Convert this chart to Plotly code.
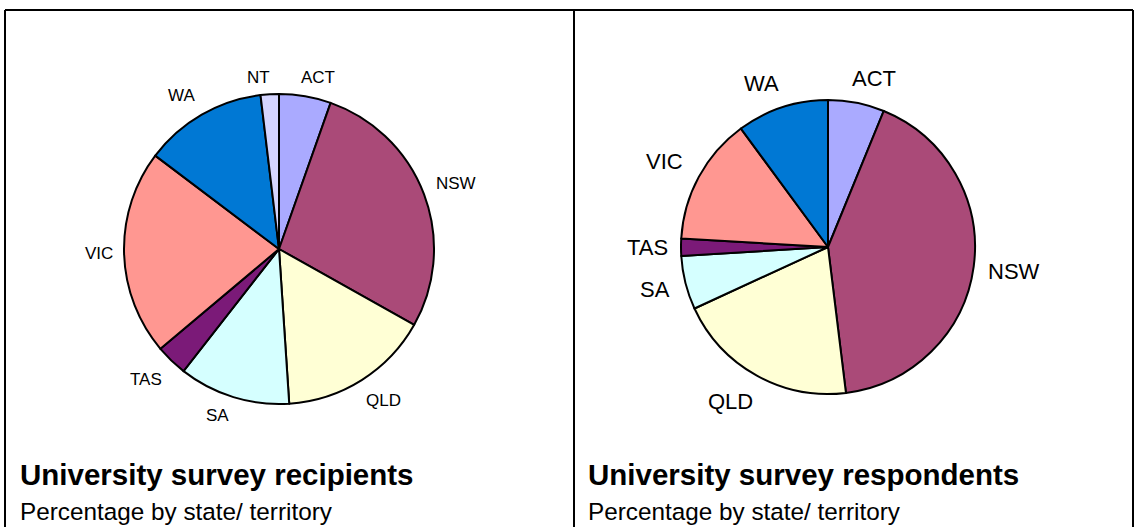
import math

import plotly.graph_objects as go

W, H = 1135, 527
FONT = "Liberation Sans, Arial, sans-serif"

states = ["ACT", "NSW", "QLD", "SA", "TAS", "VIC", "WA", "NT"]
recipients = [5.4, 27.7, 15.8, 11.6, 3.3, 21.4, 12.8, 1.9]
respondents = [6.2, 41.9, 20.1, 5.9, 1.9, 14.0, 10.1, 0.0]
colors = ["#AAAAFF", "#AA4A78", "#FFFFD5", "#D5FFFF", "#7B1A78", "#FF9791", "#0078D4", "#D5D5FF"]

titles = ["University survey recipients", "University survey respondents"]
subtitle = "Percentage by state/ territory"

# rough Arial advance widths (em) for the capitals used in the labels
CAP_W = {"A": .667, "C": .722, "D": .722, "I": .278, "L": .556, "N": .722, "Q": .778,
         "S": .667, "T": .611, "V": .667, "W": .944}

# pie centre / radius in pixels, label font size, label gap
panels = [
    {"values": recipients, "cx": 279, "cy": 249, "r": 155, "fs": 17, "gap": 10, "tx": 21},
    {"values": respondents, "cx": 828, "cy": 247, "r": 147, "fs": 22, "gap": 12, "tx": 589},
]

fig = go.Figure()
annotations = []
for p in panels:
    fig.add_trace(go.Pie(
        labels=states,
        values=p["values"],
        sort=False,
        direction="clockwise",
        rotation=0,
        textinfo="none",
        hoverinfo="label+percent",
        showlegend=False,
        marker={"colors": colors, "line": {"color": "black", "width": 2}},
        domain={
            "x": [(p["cx"] - p["r"]) / W, (p["cx"] + p["r"]) / W],
            "y": [1 - (p["cy"] + p["r"]) / H, 1 - (p["cy"] - p["r"]) / H],
        },
    ))
    total = sum(p["values"])
    start = 0.0
    for name, v in zip(states, p["values"]):
        ang = (start + v / 2) / total * 2 * math.pi
        start += v
        if v <= 0:
            continue
        s, c = math.sin(ang), math.cos(ang)
        tw = sum(CAP_W[ch] for ch in name) * p["fs"]
        th = p["fs"] * 0.75
        d = p["r"] + p["gap"] + abs(s) * tw / 2 + abs(c) * th / 2
        # labels near top/bottom sit a little further out sideways
        push = math.copysign(0.6 * p["fs"] * abs(c), s)
        annotations.append(dict(
            x=(p["cx"] + d * s + push) / W, y=1 - (p["cy"] - d * c) / H,
            xref="paper", yref="paper", text=name, showarrow=False,
            xanchor="center", yanchor="middle",
            font={"size": p["fs"], "color": "black", "family": FONT},
        ))

for p, t in zip(panels, titles):
    annotations.append(dict(
        x=p["tx"] / W, y=1 - 474 / H, xref="paper", yref="paper", text=f"<b>{t}</b>",
        showarrow=False, xanchor="left", yanchor="middle", xshift=-3,
        font={"size": 29.5, "color": "black", "family": FONT},
    ))
    annotations.append(dict(
        x=p["tx"] / W, y=1 - 511 / H, xref="paper", yref="paper", text=subtitle,
        showarrow=False, xanchor="left", yanchor="middle", xshift=-3,
        font={"size": 24.3, "color": "black", "family": FONT},
    ))

line = {"color": "black", "width": 2}
shapes = [
    dict(type="line", xref="paper", yref="paper", x0=5 / W, x1=1133 / W, y0=1 - 10 / H, y1=1 - 10 / H, line=line),
    dict(type="line", xref="paper", yref="paper", x0=5 / W, x1=5 / W, y0=0, y1=1 - 10 / H, line=line),
    dict(type="line", xref="paper", yref="paper", x0=574 / W, x1=574 / W, y0=0, y1=1 - 10 / H, line=line),
    dict(type="line", xref="paper", yref="paper", x0=1133 / W, x1=1133 / W, y0=0, y1=1 - 10 / H, line=line),
]

fig.update_layout(
    width=W, height=H,
    margin={"l": 0, "r": 0, "t": 0, "b": 0},
    paper_bgcolor="white", plot_bgcolor="white",
    annotations=annotations, shapes=shapes,
    font={"family": FONT},
)
fig.write_html(
    "out.html",
    config={"displayModeBar": False},
    post_script="document.body.style.margin='0';",
)
